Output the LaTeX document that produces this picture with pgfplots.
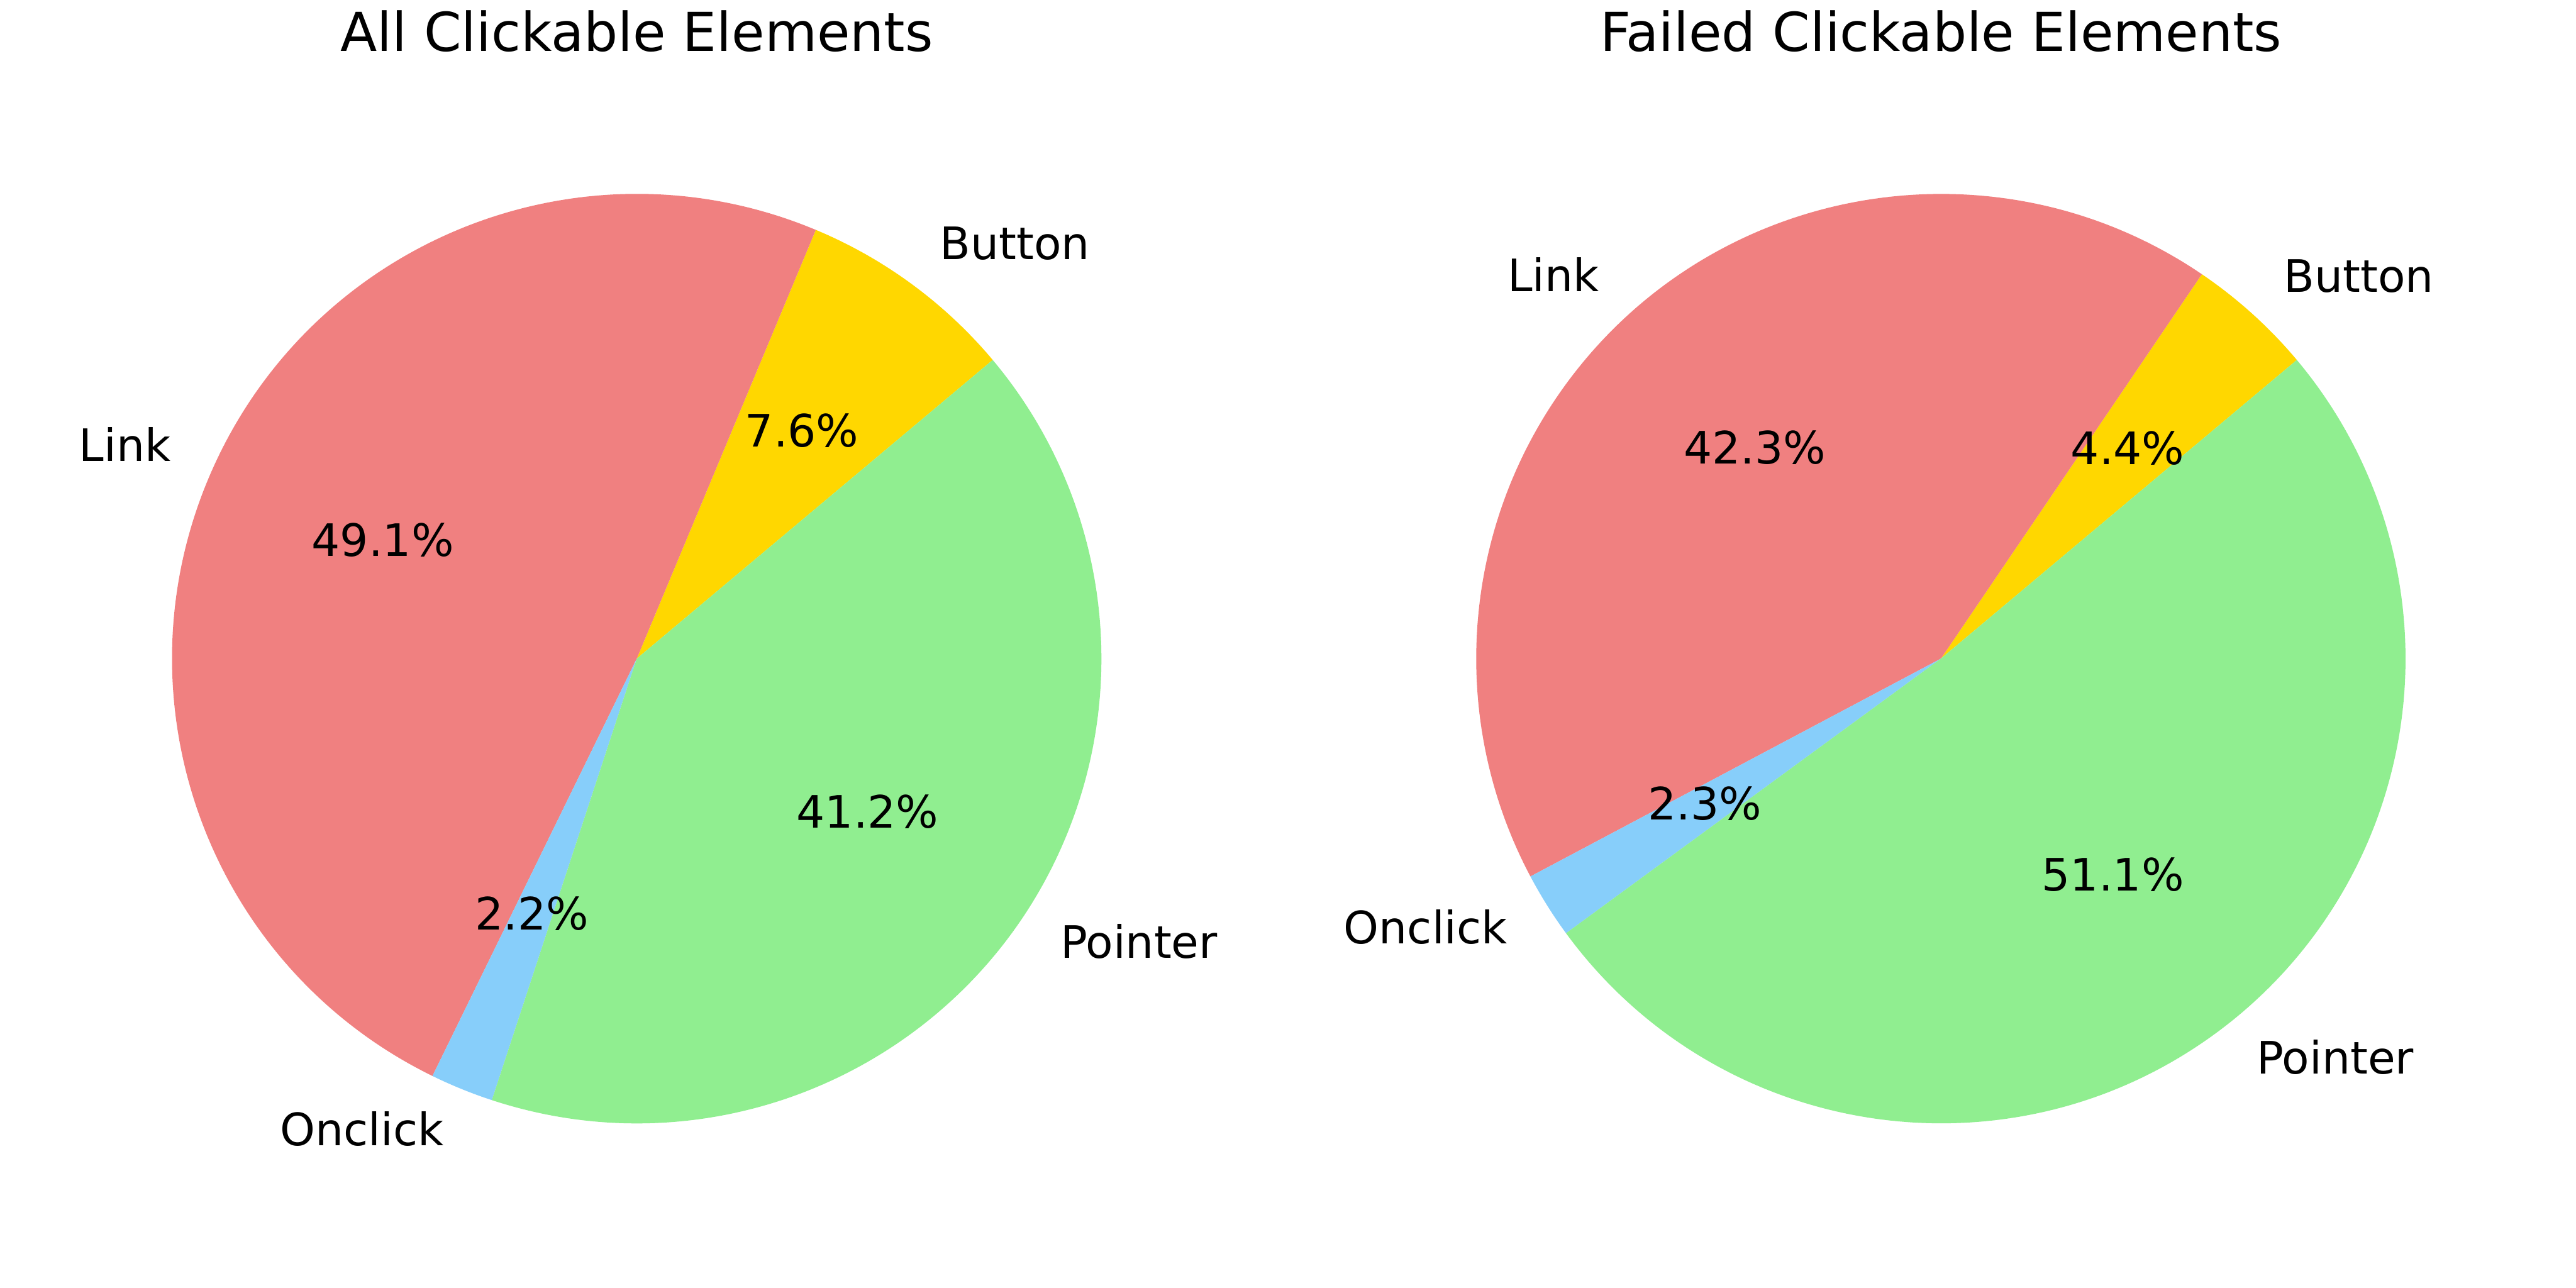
\documentclass[border=0pt]{standalone}
\usepackage{pgfplots}
\pgfplotsset{compat=1.18}
\usepackage{fontspec}
\setmainfont{DejaVu Sans}
\definecolor{clink}{HTML}{F08080}
\definecolor{cbutton}{HTML}{FFD700}
\definecolor{cpointer}{HTML}{90EE90}
\definecolor{conclick}{HTML}{87CEFA}
\newcommand{\R}{207.8pt}
\newcommand{\lblfont}{\fontsize{20}{24}\selectfont}
\newcommand{\ttlfont}{\fontsize{24}{29}\selectfont}
% wedge: start, end, colour
\newcommand{\piewedge}[3]{%
  \edef\tmp{\noexpand\fill[#3] (axis cs:0,0) -- (axis cs:{cos(#1)},{sin(#1)}) arc[start angle=#1,end angle=#2,radius=\R] -- cycle;}\tmp}
% label: start, end, name, percentage
\newcommand{\pielabel}[4]{%
  \pgfmathsetmacro{\m}{(#1+#2)/2}%
  \pgfmathparse{cos(\m)>0 ? 1 : 0}%
  \ifdim\pgfmathresult pt>0.5pt \def\anc{west}\else\def\anc{east}\fi
  \edef\tmp{\noexpand\node[anchor=\anc,inner sep=0pt,yshift=1.5pt,font=\noexpand\lblfont] at (axis cs:{1.1*cos(\m)},{1.1*sin(\m)}) {#3};
  \noexpand\node[inner sep=0pt,yshift=1.5pt,font=\noexpand\lblfont] at (axis cs:{0.6*cos(\m)},{0.6*sin(\m)}) {#4\noexpand\%};}\tmp}
% pie: cx, cy, title, button, link, onclick, pointer
\newcommand{\drawpie}[7]{%
  \pgfmathsetmacro{\ssum}{#4+#5+#6+#7}%
  \pgfmathsetmacro{\aA}{40}%
  \pgfmathsetmacro{\aB}{\aA+#4/\ssum*360}%
  \pgfmathsetmacro{\aC}{\aB+#5/\ssum*360}%
  \pgfmathsetmacro{\aD}{\aC+#6/\ssum*360}%
  \pgfmathsetmacro{\aE}{\aD+#7/\ssum*360}%
  \begin{axis}[at={(#1,#2)}, anchor=center, hide axis, scale only axis,
    x=\R, y=\R, xmin=-1.3, xmax=1.3, ymin=-1.3, ymax=1.3, clip=false]
    \piewedge{\aA}{\aB}{cbutton}
    \piewedge{\aB}{\aC}{clink}
    \piewedge{\aC}{\aD}{conclick}
    \piewedge{\aD}{\aE}{cpointer}
    \pielabel{\aA}{\aB}{Button}{#4}
    \pielabel{\aB}{\aC}{Link}{#5}
    \pielabel{\aC}{\aD}{Onclick}{#6}
    \pielabel{\aD}{\aE}{Pointer}{#7}
    \node[anchor=base,inner sep=0pt,font=\ttlfont] at (axis cs:0,1.3068) {#3};
  \end{axis}}
\begin{document}
\begin{tikzpicture}
\useasboundingbox (0,0) rectangle (1152pt,576pt);
\drawpie{284.76pt}{281.45pt}{All Clickable Elements}{7.6}{49.1}{2.2}{41.2}
\drawpie{867.96pt}{281.45pt}{Failed Clickable Elements}{4.4}{42.3}{2.3}{51.1}
\end{tikzpicture}
\end{document}
